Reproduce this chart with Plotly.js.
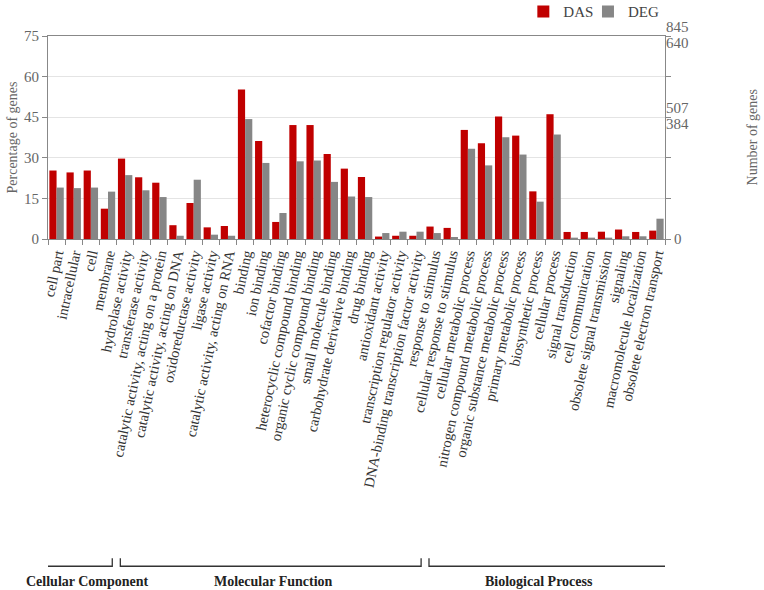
<!DOCTYPE html>
<html>
<head>
<meta charset="utf-8">
<script src="https://cdn.plot.ly/plotly-3.0.1.min.js"></script>
<style>html,body{margin:0;padding:0;background:#fff;}#chart{width:764px;height:590px;}</style>
</head>
<body>
<div id="chart"></div>
<script>
const categories = [
  "cell part","intracellular","cell","membrane",
  "hydrolase activity","transferase activity","catalytic activity, acting on a protein",
  "catalytic activity, acting on DNA","oxidoreductase activity","ligase activity",
  "catalytic activity, acting on RNA","binding","ion binding","cofactor binding",
  "heterocyclic compound binding","organic cyclic compound binding","small molecule binding",
  "carbohydrate derivative binding","drug binding","antioxidant activity",
  "transcription regulator activity","DNA-binding transcription factor activity",
  "response to stimulus","cellular response to stimulus","cellular metabolic process",
  "nitrogen compound metabolic process","organic substance metabolic process",
  "primary metabolic process","biosynthetic process","cellular process",
  "signal transduction","cell communication","obsolete signal transmission",
  "signaling","macromolecule localization","obsolete electron transport"
];
const dasPercent = [
  25.3, 24.6, 25.3, 11.2,
  29.7, 22.8, 20.8, 5.1, 13.3, 4.3, 4.8, 55.2, 36.2, 6.3,
  42.1, 42.1, 31.4, 26.0, 22.9, 0.9, 1.2, 1.2,
  4.6, 4.1, 40.3, 35.4, 45.3, 38.2, 17.6, 46.1,
  2.6, 2.6, 2.7, 3.5, 2.6, 3.1
];
const degPercent = [
  19.0, 18.8, 19.0, 17.5,
  23.6, 18.0, 15.5, 1.2, 21.9, 1.6, 1.2, 44.3, 28.1, 9.6,
  28.7, 29.0, 21.1, 15.7, 15.5, 2.2, 2.7, 2.7,
  2.2, 0.75, 33.3, 27.2, 37.6, 31.2, 13.8, 38.6,
  0.5, 0.5, 0.5, 1.0, 1.0, 7.5
];
const percentTicks = [0, 15, 30, 45, 60, 75];
const dasTotal = 845;
const degTotal = 640;
const dasCountTicks = [507, 845];
const degCountTicks = [384, 640];
const groupNames = ["Cellular Component", "Molecular Function", "Biological Process"];
const groupStart = [-0.54, 3.72, 21.73];
const groupEnd = [3.25, 21.27, 35.6];
const groupLabelPos = [1.79, 12.64, 28.15];

const serif = "'Liberation Serif', 'Times New Roman', serif";

const traces = [
  {type: "bar", name: "DAS", x: categories, y: dasPercent, marker: {color: "#c00000"}, legend: "legend"},
  {type: "bar", name: "DEG", x: categories, y: degPercent, marker: {color: "#868686"}, legend: "legend2"},
  {type: "scatter", x: [], y: [], yaxis: "y2", showlegend: false, hoverinfo: "skip"},
  {type: "scatter", x: [], y: [], yaxis: "y3", showlegend: false, hoverinfo: "skip"},
  {type: "scatter", x: [], y: [], yaxis: "y4", showlegend: false, hoverinfo: "skip"}
];

const bracketTop = -1.573, bracketBottom = -1.612, labelY = -1.686;
const shapes = groupNames.map((g, i) => ({
  type: "path", xref: "x", yref: "paper",
  path: `M ${groupStart[i]},${bracketTop} L ${groupStart[i]},${bracketBottom} L ${groupEnd[i]},${bracketBottom} L ${groupEnd[i]},${bracketTop}`,
  line: {color: "#333", width: 1.3}
}));
const annotations = groupNames.map((g, i) => ({
  text: "<b>" + g + "</b>", xref: "x", yref: "paper", x: groupLabelPos[i], y: labelY,
  showarrow: false, font: {family: serif, size: 14, color: "#222"}, xanchor: "center", yanchor: "middle"
}));
annotations.push({
  text: "Number of genes", xref: "paper", yref: "paper", x: 1.1426, y: 0.5, textangle: -90,
  showarrow: false, font: {family: serif, size: 14, color: "#666"}, xanchor: "center", yanchor: "middle"
});

const rightFont = {family: serif, size: 15, color: "#666"};
const legendBase = {orientation: "h", xref: "container", yref: "container", xanchor: "left",
                    y: 0.98, yanchor: "middle",
                    font: {family: serif, size: 15, color: "#444"}, bgcolor: "rgba(0,0,0,0)"};
const layout = {
  width: 764, height: 590,
  margin: {l: 48, r: 99, t: 36, b: 351, autoexpand: false},
  paper_bgcolor: "#fff", plot_bgcolor: "#fff",
  font: {family: serif, color: "#555"},
  barmode: "group", bargap: 0.16, bargroupgap: 0,
  showlegend: true,
  legend: Object.assign({}, legendBase, {x: 0.685}),
  legend2: Object.assign({}, legendBase, {x: 0.7696}),
  xaxis: {type: "category", range: [-0.5, 35.5], tickangle: -78,
          tickfont: {family: serif, size: 14.5, color: "#333"},
          showline: true, linecolor: "#888", mirror: true, ticks: "outside", ticklen: 5,
          tickcolor: "#888", tickson: "boundaries", showgrid: false, automargin: false, fixedrange: true},
  yaxis: {range: [0, 75], tickvals: percentTicks, tickfont: {family: serif, size: 15, color: "#666"},
          showline: true, linecolor: "#888", ticks: "outside", ticklen: 5, tickcolor: "#888",
          gridcolor: "#e4e4e4", zeroline: false, automargin: false,
          title: {text: "Percentage of genes", font: {family: serif, size: 14, color: "#666"}, standoff: 3}},
  yaxis2: {overlaying: "y", side: "right", range: [0, 75], tickvals: percentTicks,
           ticktext: percentTicks.map(v => v === 0 ? "0" : ""), tickfont: rightFont,
           showline: true, linecolor: "#888", ticks: "outside", ticklen: 5, tickcolor: "#888",
           showgrid: false, zeroline: false, automargin: false},
  yaxis3: {overlaying: "y", side: "right", range: [0, dasTotal], tickvals: dasCountTicks,
           ticktext: dasCountTicks.map(String), tickfont: rightFont, ticks: "", ticklabelshift: -9,
           showline: false, showgrid: false, zeroline: false, automargin: false},
  yaxis4: {overlaying: "y", side: "right", range: [0, degTotal], tickvals: degCountTicks,
           ticktext: degCountTicks.map(String), tickfont: rightFont, ticks: "", ticklabelshift: 7,
           showline: false, showgrid: false, zeroline: false, automargin: false},
  shapes: shapes,
  annotations: annotations
};

Plotly.newPlot("chart", traces, layout, {staticPlot: true, displayModeBar: false});
</script>
</body>
</html>
